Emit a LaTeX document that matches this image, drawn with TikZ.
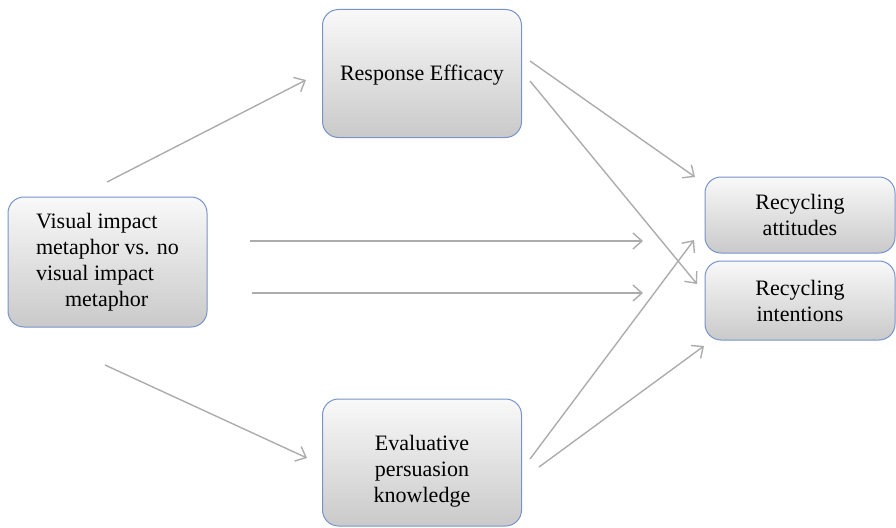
\documentclass[tikz,border=0pt]{standalone}
\usepackage{fontspec}
\setmainfont{Liberation Serif}
\usetikzlibrary{arrows.meta, positioning}
\definecolor{myBoxBorder}{RGB}{118,148,202}
\definecolor{myArrowGray}{RGB}{172,172,172}

\begin{document}
\begin{tikzpicture}[x=1pt, y=-1pt,
  box/.style={draw=myBoxBorder, line width=1pt, rounded corners=16pt,
    top color=gray!5, bottom color=gray!42, align=center, inner sep=2pt,
    font=\fontsize{22}{26}\selectfont},
  boxText/.style={align=center, inner sep=0pt, font=\fontsize{22}{26}\selectfont},
  arr/.style={myArrowGray, line width=1.4pt, -{Straight Barb[length=9pt, width=16pt]}}]
  \useasboundingbox (0,0) rectangle (896,527);

  \node[box, minimum width=199pt, minimum height=130pt, align=left] (visual) at (107.5,262)
    {Visual impact\\metaphor vs. no\\visual impact\\\hspace*{29pt}metaphor};
  \node[box, minimum width=199pt, minimum height=128pt] (efficacy) at (422,73.5) {};
  \node[boxText] (efficacyText) at ([yshift=-2pt]efficacy.center) {Response Efficacy};
  \node[box, minimum width=199pt, minimum height=127pt] (persuasion) at (422,462.5) {};
  \node[boxText] (persuasionText) at ([yshift=-9pt]persuasion.center)
    {Evaluative\\persuasion\\knowledge};
  \node[box, minimum width=190pt, minimum height=76pt] (attitudes) at (800,215)
    {Recycling\\attitudes};
  \node[box, minimum width=190pt, minimum height=79pt] (intentions) at (800,300.5)
    {Recycling\\intentions};

  % free ends of the paths
  \coordinate (visualUp) at (107,182);
  \coordinate (visualDown) at (105,365);
  \coordinate (visualA) at (250,241);
  \coordinate (visualB) at (252,293);
  \coordinate (efficacyIn) at (306,80);
  \coordinate (persuasionIn) at (307,458);
  \coordinate (efficacyA) at (530,61);
  \coordinate (efficacyB) at (530,81);
  \coordinate (persuasionA) at (530,459);
  \coordinate (persuasionB) at (539,467);
  \coordinate (attitudesA) at (643,241);
  \coordinate (attitudesB) at (695,177);
  \coordinate (attitudesC) at (694,240);
  \coordinate (intentionsA) at (643,293);
  \coordinate (intentionsB) at (697,284);
  \coordinate (intentionsC) at (704,346);

  \draw[arr] (visualUp) -- (efficacyIn);
  \draw[arr] (visualDown) -- (persuasionIn);
  \draw[arr] (visualA) -- (attitudesA);
  \draw[arr] (visualB) -- (intentionsA);
  \draw[arr] (efficacyA) -- (attitudesB);
  \draw[arr] (efficacyB) -- (intentionsB);
  \draw[arr] (persuasionA) -- (attitudesC);
  \draw[arr] (persuasionB) -- (intentionsC);
\end{tikzpicture}
\end{document}
